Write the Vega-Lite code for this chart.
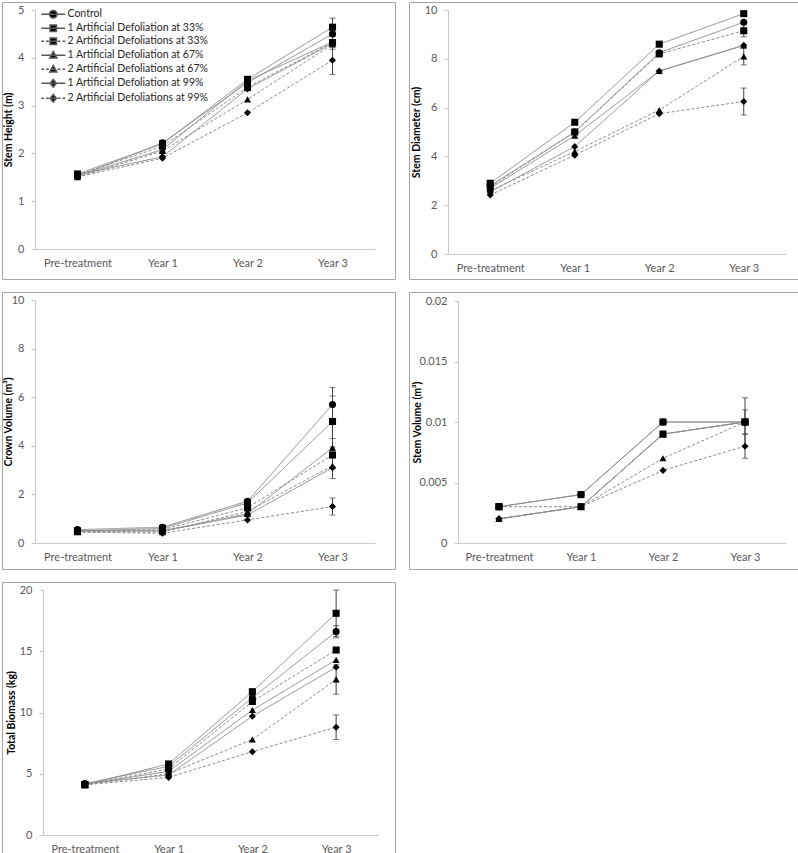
{
"$schema": "https://vega.github.io/schema/vega-lite/v6.json",
"background": "white",
"padding": {"left": 1, "top": 1, "right": 0, "bottom": 0},
"config": {
  "view": {"stroke": "#a6a6a6", "strokeWidth": 1},
  "font": "Lato",
  "axis": {"grid": false, "domainColor": "#c8c8c8", "labelColor": "#595959", "labelFontSize": 11, "labelFont": "Lato", "titleFont": "Lato", "titleFontSize": 10.5, "titleFontWeight": "bold", "titleColor": "#000000", "tickColor": "#c8c8c8"},
  "axisX": {"ticks": false, "labelPadding": 8, "labelAngle": 0},
  "axisY": {"tickSize": 4, "labelPadding": 7, "titlePadding": 4},
  "legend": {"labelFont": "Lato"}
},
"datasets": {
  "height": [
    {"series": "Control", "period": "Pre-treatment", "value": 1.52},
    {"series": "Control", "period": "Year 1", "value": 2.22},
    {"series": "Control", "period": "Year 2", "value": 3.48},
    {"series": "Control", "period": "Year 3", "value": 4.5},
    {"series": "1 Artificial Defoliation at 33%", "period": "Pre-treatment", "value": 1.57},
    {"series": "1 Artificial Defoliation at 33%", "period": "Year 1", "value": 2.2},
    {"series": "1 Artificial Defoliation at 33%", "period": "Year 2", "value": 3.55},
    {"series": "1 Artificial Defoliation at 33%", "period": "Year 3", "value": 4.64, "lo": 4.45, "hi": 4.83},
    {"series": "2 Artificial Defoliations at 33%", "period": "Pre-treatment", "value": 1.55},
    {"series": "2 Artificial Defoliations at 33%", "period": "Year 1", "value": 2.15},
    {"series": "2 Artificial Defoliations at 33%", "period": "Year 2", "value": 3.38},
    {"series": "2 Artificial Defoliations at 33%", "period": "Year 3", "value": 4.32},
    {"series": "1 Artificial Defoliation at 67%", "period": "Pre-treatment", "value": 1.53},
    {"series": "1 Artificial Defoliation at 67%", "period": "Year 1", "value": 2.08},
    {"series": "1 Artificial Defoliation at 67%", "period": "Year 2", "value": 3.52},
    {"series": "1 Artificial Defoliation at 67%", "period": "Year 3", "value": 4.33, "lo": 4.18, "hi": 4.48},
    {"series": "2 Artificial Defoliations at 67%", "period": "Pre-treatment", "value": 1.5},
    {"series": "2 Artificial Defoliations at 67%", "period": "Year 1", "value": 2.05},
    {"series": "2 Artificial Defoliations at 67%", "period": "Year 2", "value": 3.13},
    {"series": "2 Artificial Defoliations at 67%", "period": "Year 3", "value": 4.28},
    {"series": "1 Artificial Defoliation at 99%", "period": "Pre-treatment", "value": 1.55},
    {"series": "1 Artificial Defoliation at 99%", "period": "Year 1", "value": 1.93},
    {"series": "1 Artificial Defoliation at 99%", "period": "Year 2", "value": 3.35},
    {"series": "1 Artificial Defoliation at 99%", "period": "Year 3", "value": 4.3},
    {"series": "2 Artificial Defoliations at 99%", "period": "Pre-treatment", "value": 1.51},
    {"series": "2 Artificial Defoliations at 99%", "period": "Year 1", "value": 1.9},
    {"series": "2 Artificial Defoliations at 99%", "period": "Year 2", "value": 2.85},
    {"series": "2 Artificial Defoliations at 99%", "period": "Year 3", "value": 3.95, "lo": 3.65, "hi": 4.25}
  ],
  "diameter": [
    {"series": "Control", "period": "Pre-treatment", "value": 2.8},
    {"series": "Control", "period": "Year 1", "value": 5.0},
    {"series": "Control", "period": "Year 2", "value": 8.25},
    {"series": "Control", "period": "Year 3", "value": 9.5},
    {"series": "1 Artificial Defoliation at 33%", "period": "Pre-treatment", "value": 2.9},
    {"series": "1 Artificial Defoliation at 33%", "period": "Year 1", "value": 5.4},
    {"series": "1 Artificial Defoliation at 33%", "period": "Year 2", "value": 8.6},
    {"series": "1 Artificial Defoliation at 33%", "period": "Year 3", "value": 9.85},
    {"series": "2 Artificial Defoliations at 33%", "period": "Pre-treatment", "value": 2.75},
    {"series": "2 Artificial Defoliations at 33%", "period": "Year 1", "value": 5.0},
    {"series": "2 Artificial Defoliations at 33%", "period": "Year 2", "value": 8.2},
    {"series": "2 Artificial Defoliations at 33%", "period": "Year 3", "value": 9.15, "lo": 8.9, "hi": 9.4},
    {"series": "1 Artificial Defoliation at 67%", "period": "Pre-treatment", "value": 2.7},
    {"series": "1 Artificial Defoliation at 67%", "period": "Year 1", "value": 4.85},
    {"series": "1 Artificial Defoliation at 67%", "period": "Year 2", "value": 7.5},
    {"series": "1 Artificial Defoliation at 67%", "period": "Year 3", "value": 8.55},
    {"series": "2 Artificial Defoliations at 67%", "period": "Pre-treatment", "value": 2.6},
    {"series": "2 Artificial Defoliations at 67%", "period": "Year 1", "value": 4.2},
    {"series": "2 Artificial Defoliations at 67%", "period": "Year 2", "value": 5.9},
    {"series": "2 Artificial Defoliations at 67%", "period": "Year 3", "value": 8.1, "lo": 7.75, "hi": 8.45},
    {"series": "1 Artificial Defoliation at 99%", "period": "Pre-treatment", "value": 2.55},
    {"series": "1 Artificial Defoliation at 99%", "period": "Year 1", "value": 4.4},
    {"series": "1 Artificial Defoliation at 99%", "period": "Year 2", "value": 7.5},
    {"series": "1 Artificial Defoliation at 99%", "period": "Year 3", "value": 8.55},
    {"series": "2 Artificial Defoliations at 99%", "period": "Pre-treatment", "value": 2.42},
    {"series": "2 Artificial Defoliations at 99%", "period": "Year 1", "value": 4.05},
    {"series": "2 Artificial Defoliations at 99%", "period": "Year 2", "value": 5.75},
    {"series": "2 Artificial Defoliations at 99%", "period": "Year 3", "value": 6.25, "lo": 5.7, "hi": 6.8}
  ],
  "crown": [
    {"series": "Control", "period": "Pre-treatment", "value": 0.55},
    {"series": "Control", "period": "Year 1", "value": 0.65},
    {"series": "Control", "period": "Year 2", "value": 1.72},
    {"series": "Control", "period": "Year 3", "value": 5.7, "lo": 5.0, "hi": 6.4},
    {"series": "1 Artificial Defoliation at 33%", "period": "Pre-treatment", "value": 0.5},
    {"series": "1 Artificial Defoliation at 33%", "period": "Year 1", "value": 0.6},
    {"series": "1 Artificial Defoliation at 33%", "period": "Year 2", "value": 1.65},
    {"series": "1 Artificial Defoliation at 33%", "period": "Year 3", "value": 5.0, "lo": 3.95, "hi": 6.05},
    {"series": "2 Artificial Defoliations at 33%", "period": "Pre-treatment", "value": 0.48},
    {"series": "2 Artificial Defoliations at 33%", "period": "Year 1", "value": 0.55},
    {"series": "2 Artificial Defoliations at 33%", "period": "Year 2", "value": 1.45},
    {"series": "2 Artificial Defoliations at 33%", "period": "Year 3", "value": 3.62},
    {"series": "1 Artificial Defoliation at 67%", "period": "Pre-treatment", "value": 0.5},
    {"series": "1 Artificial Defoliation at 67%", "period": "Year 1", "value": 0.5},
    {"series": "1 Artificial Defoliation at 67%", "period": "Year 2", "value": 1.2},
    {"series": "1 Artificial Defoliation at 67%", "period": "Year 3", "value": 3.92, "lo": 3.55, "hi": 4.3},
    {"series": "2 Artificial Defoliations at 67%", "period": "Pre-treatment", "value": 0.45},
    {"series": "2 Artificial Defoliations at 67%", "period": "Year 1", "value": 0.45},
    {"series": "2 Artificial Defoliations at 67%", "period": "Year 2", "value": 1.3},
    {"series": "2 Artificial Defoliations at 67%", "period": "Year 3", "value": 3.18, "lo": 2.65, "hi": 3.75},
    {"series": "1 Artificial Defoliation at 99%", "period": "Pre-treatment", "value": 0.5},
    {"series": "1 Artificial Defoliation at 99%", "period": "Year 1", "value": 0.5},
    {"series": "1 Artificial Defoliation at 99%", "period": "Year 2", "value": 1.15},
    {"series": "1 Artificial Defoliation at 99%", "period": "Year 3", "value": 3.1},
    {"series": "2 Artificial Defoliations at 99%", "period": "Pre-treatment", "value": 0.45},
    {"series": "2 Artificial Defoliations at 99%", "period": "Year 1", "value": 0.4},
    {"series": "2 Artificial Defoliations at 99%", "period": "Year 2", "value": 0.95},
    {"series": "2 Artificial Defoliations at 99%", "period": "Year 3", "value": 1.5, "lo": 1.15, "hi": 1.85}
  ],
  "stemvol": [
    {"series": "Control", "period": "Pre-treatment", "value": 0.003},
    {"series": "Control", "period": "Year 1", "value": 0.004},
    {"series": "Control", "period": "Year 2", "value": 0.01},
    {"series": "Control", "period": "Year 3", "value": 0.01, "lo": 0.008, "hi": 0.012},
    {"series": "1 Artificial Defoliation at 33%", "period": "Pre-treatment", "value": 0.003},
    {"series": "1 Artificial Defoliation at 33%", "period": "Year 1", "value": 0.004},
    {"series": "1 Artificial Defoliation at 33%", "period": "Year 2", "value": 0.01},
    {"series": "1 Artificial Defoliation at 33%", "period": "Year 3", "value": 0.01, "lo": 0.009, "hi": 0.011},
    {"series": "2 Artificial Defoliations at 33%", "period": "Pre-treatment", "value": 0.003},
    {"series": "2 Artificial Defoliations at 33%", "period": "Year 1", "value": 0.003},
    {"series": "2 Artificial Defoliations at 33%", "period": "Year 2", "value": 0.009},
    {"series": "2 Artificial Defoliations at 33%", "period": "Year 3", "value": 0.01},
    {"series": "1 Artificial Defoliation at 67%", "period": "Pre-treatment", "value": 0.002},
    {"series": "1 Artificial Defoliation at 67%", "period": "Year 1", "value": 0.003},
    {"series": "1 Artificial Defoliation at 67%", "period": "Year 2", "value": 0.009},
    {"series": "1 Artificial Defoliation at 67%", "period": "Year 3", "value": 0.01},
    {"series": "2 Artificial Defoliations at 67%", "period": "Pre-treatment", "value": 0.002},
    {"series": "2 Artificial Defoliations at 67%", "period": "Year 1", "value": 0.003},
    {"series": "2 Artificial Defoliations at 67%", "period": "Year 2", "value": 0.007},
    {"series": "2 Artificial Defoliations at 67%", "period": "Year 3", "value": 0.01},
    {"series": "1 Artificial Defoliation at 99%", "period": "Pre-treatment", "value": 0.002},
    {"series": "1 Artificial Defoliation at 99%", "period": "Year 1", "value": 0.003},
    {"series": "1 Artificial Defoliation at 99%", "period": "Year 2", "value": 0.009},
    {"series": "1 Artificial Defoliation at 99%", "period": "Year 3", "value": 0.01},
    {"series": "2 Artificial Defoliations at 99%", "period": "Pre-treatment", "value": 0.002},
    {"series": "2 Artificial Defoliations at 99%", "period": "Year 1", "value": 0.003},
    {"series": "2 Artificial Defoliations at 99%", "period": "Year 2", "value": 0.006},
    {"series": "2 Artificial Defoliations at 99%", "period": "Year 3", "value": 0.008, "lo": 0.007, "hi": 0.009}
  ],
  "biomass": [
    {"series": "Control", "period": "Pre-treatment", "value": 4.2},
    {"series": "Control", "period": "Year 1", "value": 5.6},
    {"series": "Control", "period": "Year 2", "value": 11.2},
    {"series": "Control", "period": "Year 3", "value": 16.6, "lo": 16.1, "hi": 17.1},
    {"series": "1 Artificial Defoliation at 33%", "period": "Pre-treatment", "value": 4.1},
    {"series": "1 Artificial Defoliation at 33%", "period": "Year 1", "value": 5.8},
    {"series": "1 Artificial Defoliation at 33%", "period": "Year 2", "value": 11.7},
    {"series": "1 Artificial Defoliation at 33%", "period": "Year 3", "value": 18.1, "lo": 16.2, "hi": 20.0},
    {"series": "2 Artificial Defoliations at 33%", "period": "Pre-treatment", "value": 4.1},
    {"series": "2 Artificial Defoliations at 33%", "period": "Year 1", "value": 5.4},
    {"series": "2 Artificial Defoliations at 33%", "period": "Year 2", "value": 10.9},
    {"series": "2 Artificial Defoliations at 33%", "period": "Year 3", "value": 15.1},
    {"series": "1 Artificial Defoliation at 67%", "period": "Pre-treatment", "value": 4.15},
    {"series": "1 Artificial Defoliation at 67%", "period": "Year 1", "value": 5.2},
    {"series": "1 Artificial Defoliation at 67%", "period": "Year 2", "value": 10.2},
    {"series": "1 Artificial Defoliation at 67%", "period": "Year 3", "value": 14.3},
    {"series": "2 Artificial Defoliations at 67%", "period": "Pre-treatment", "value": 4.1},
    {"series": "2 Artificial Defoliations at 67%", "period": "Year 1", "value": 5.0},
    {"series": "2 Artificial Defoliations at 67%", "period": "Year 2", "value": 7.8},
    {"series": "2 Artificial Defoliations at 67%", "period": "Year 3", "value": 12.7, "lo": 11.5, "hi": 13.9},
    {"series": "1 Artificial Defoliation at 99%", "period": "Pre-treatment", "value": 4.2},
    {"series": "1 Artificial Defoliation at 99%", "period": "Year 1", "value": 4.9},
    {"series": "1 Artificial Defoliation at 99%", "period": "Year 2", "value": 9.7},
    {"series": "1 Artificial Defoliation at 99%", "period": "Year 3", "value": 13.7},
    {"series": "2 Artificial Defoliations at 99%", "period": "Pre-treatment", "value": 4.1},
    {"series": "2 Artificial Defoliations at 99%", "period": "Year 1", "value": 4.7},
    {"series": "2 Artificial Defoliations at 99%", "period": "Year 2", "value": 6.8},
    {"series": "2 Artificial Defoliations at 99%", "period": "Year 3", "value": 8.8, "lo": 7.8, "hi": 9.8}
  ]
},
"spacing": 11,
"vconcat": [
  {"hconcat": [
    {
      "width": 393, "height": 277,
      "data": {"name": "height"},
      "encoding": {
        "x": {"field": "period", "type": "ordinal", "title": null, "scale": {"type": "point", "domain": ["Pre-treatment", "Year 1", "Year 2", "Year 3"], "range": [33, 373], "padding": 0.5}, "axis": {"offset": -30}},
        "y": {"field": "value", "type": "quantitative", "title": "Stem Height (m)", "scale": {"domain": [0, 5], "range": [247, 8], "nice": false, "zero": false}, "axis": {"offset": -33, "values": [0, 1, 2, 3, 4, 5], "titleX": -22}}
      },
      "layer": [
        {"mark": {"type": "line", "color": "#8c8c8c", "strokeWidth": 1},
         "encoding": {"strokeDash": {"field": "series", "type": "nominal", "legend": null, "scale": {"domain": ["Control", "1 Artificial Defoliation at 33%", "2 Artificial Defoliations at 33%", "1 Artificial Defoliation at 67%", "2 Artificial Defoliations at 67%", "1 Artificial Defoliation at 99%", "2 Artificial Defoliations at 99%"], "range": [[1, 0], [1, 0], [3, 2], [1, 0], [3, 2], [1, 0], [3, 2]]}}}},
        {"transform": [{"filter": "isValid(datum.lo)"}],
         "mark": {"type": "errorbar", "ticks": {"size": 6}, "color": "#404040", "thickness": 1},
         "encoding": {"y": {"field": "lo", "type": "quantitative", "title": "Stem Height (m)", "scale": {"domain": [0, 5], "range": [247, 8], "nice": false, "zero": false}}, "y2": {"field": "hi"}}},
        {"mark": {"type": "point", "filled": true, "color": "black", "size": 50, "opacity": 1},
         "encoding": {"order": {"field": "series", "sort": "ascending"}, "shape": {"field": "series", "type": "nominal", "legend": null, "scale": {"domain": ["Control", "1 Artificial Defoliation at 33%", "2 Artificial Defoliations at 33%", "1 Artificial Defoliation at 67%", "2 Artificial Defoliations at 67%", "1 Artificial Defoliation at 99%", "2 Artificial Defoliations at 99%"], "range": ["circle", "square", "square", "triangle-up", "triangle-up", "diamond", "diamond"]}}}},
        {"transform": [{"filter": "false"}],
         "mark": {"type": "point", "filled": true, "color": "black", "stroke": "#595959", "strokeWidth": 1, "opacity": 1},
         "encoding": {"shape": {"field": "series", "type": "nominal",
           "scale": {"domain": ["Control", "1 Artificial Defoliation at 33%", "2 Artificial Defoliations at 33%", "1 Artificial Defoliation at 67%", "2 Artificial Defoliations at 67%", "1 Artificial Defoliation at 99%", "2 Artificial Defoliations at 99%"],
             "range": [
               "M-3,0H3M0.95,0A0.95,0.95,0,1,1,-0.95,0A0.95,0.95,0,1,1,0.95,0Z",
               "M-3,0H3M-0.8,-0.8H0.8V0.8H-0.8Z",
               "M-3,0H-2.3M-1.8,0H-1.1M-0.6,0H0.6M1.1,0H1.8M2.3,0H3M-0.8,-0.8H0.8V0.8H-0.8Z",
               "M-3,0H3M0,-0.95L0.9,0.7H-0.9Z",
               "M-3,0H-2.3M-1.8,0H-1.1M-0.6,0H0.6M1.1,0H1.8M2.3,0H3M0,-0.95L0.9,0.7H-0.9Z",
               "M-3,0H3M0,-0.95L0.8,0L0,0.95L-0.8,0Z",
               "M-3,0H-2.3M-1.8,0H-1.1M-0.6,0H0.6M1.1,0H1.8M2.3,0H3M0,-0.95L0.8,0L0,0.95L-0.8,0Z"
             ]},
           "legend": {"title": null, "orient": "none", "legendX": 46, "legendY": 7, "symbolSize": 64, "labelOffset": 9, "rowPadding": 0, "labelFontSize": 10.5, "labelColor": "#262626", "labelLimit": 300,
             "encode": {"symbols": {"stroke": {"value": "#404040"}, "strokeWidth": {"value": 1}, "fill": {"value": "black"}, "opacity": {"value": 1}}}}}}}
      ],
      "resolve": {"scale": {"shape": "independent"}}
    },
    {
      "width": 392, "height": 277,
      "data": {"name": "diameter"},
      "encoding": {
        "x": {"field": "period", "type": "ordinal", "title": null, "scale": {"type": "point", "domain": ["Pre-treatment", "Year 1", "Year 2", "Year 3"], "range": [39, 377], "padding": 0.5}, "axis": {"offset": -25}},
        "y": {"field": "value", "type": "quantitative", "title": "Stem Diameter (cm)", "scale": {"domain": [0, 10], "range": [252, 8], "nice": false, "zero": false}, "axis": {"offset": -39, "values": [0, 2, 4, 6, 8, 10], "titleX": -27}}
      },
      "layer": [
        {"mark": {"type": "line", "color": "#8c8c8c", "strokeWidth": 1},
         "encoding": {"strokeDash": {"field": "series", "type": "nominal", "legend": null, "scale": {"domain": ["Control", "1 Artificial Defoliation at 33%", "2 Artificial Defoliations at 33%", "1 Artificial Defoliation at 67%", "2 Artificial Defoliations at 67%", "1 Artificial Defoliation at 99%", "2 Artificial Defoliations at 99%"], "range": [[1, 0], [1, 0], [3, 2], [1, 0], [3, 2], [1, 0], [3, 2]]}}}},
        {"transform": [{"filter": "isValid(datum.lo)"}],
         "mark": {"type": "errorbar", "ticks": {"size": 6}, "color": "#404040", "thickness": 1},
         "encoding": {"y": {"field": "lo", "type": "quantitative", "title": "Stem Diameter (cm)", "scale": {"domain": [0, 10], "range": [252, 8], "nice": false, "zero": false}}, "y2": {"field": "hi"}}},
        {"mark": {"type": "point", "filled": true, "color": "black", "size": 50, "opacity": 1},
         "encoding": {"order": {"field": "series", "sort": "ascending"}, "shape": {"field": "series", "type": "nominal", "legend": null, "scale": {"domain": ["Control", "1 Artificial Defoliation at 33%", "2 Artificial Defoliations at 33%", "1 Artificial Defoliation at 67%", "2 Artificial Defoliations at 67%", "1 Artificial Defoliation at 99%", "2 Artificial Defoliations at 99%"], "range": ["circle", "square", "square", "triangle-up", "triangle-up", "diamond", "diamond"]}}}}
      ]
    }
  ], "spacing": 12},
  {"hconcat": [
    {
      "width": 393, "height": 277,
      "data": {"name": "crown"},
      "encoding": {
        "x": {"field": "period", "type": "ordinal", "title": null, "scale": {"type": "point", "domain": ["Pre-treatment", "Year 1", "Year 2", "Year 3"], "range": [33, 373], "padding": 0.5}, "axis": {"offset": -26}},
        "y": {"field": "value", "type": "quantitative", "title": "Crown Volume (m³)", "scale": {"domain": [0, 10], "range": [251, 8], "nice": false, "zero": false}, "axis": {"offset": -33, "values": [0, 2, 4, 6, 8, 10], "titleX": -22}}
      },
      "layer": [
        {"mark": {"type": "line", "color": "#8c8c8c", "strokeWidth": 1},
         "encoding": {"strokeDash": {"field": "series", "type": "nominal", "legend": null, "scale": {"domain": ["Control", "1 Artificial Defoliation at 33%", "2 Artificial Defoliations at 33%", "1 Artificial Defoliation at 67%", "2 Artificial Defoliations at 67%", "1 Artificial Defoliation at 99%", "2 Artificial Defoliations at 99%"], "range": [[1, 0], [1, 0], [3, 2], [1, 0], [3, 2], [1, 0], [3, 2]]}}}},
        {"transform": [{"filter": "isValid(datum.lo)"}],
         "mark": {"type": "errorbar", "ticks": {"size": 6}, "color": "#404040", "thickness": 1},
         "encoding": {"y": {"field": "lo", "type": "quantitative", "title": "Crown Volume (m³)", "scale": {"domain": [0, 10], "range": [251, 8], "nice": false, "zero": false}}, "y2": {"field": "hi"}}},
        {"mark": {"type": "point", "filled": true, "color": "black", "size": 50, "opacity": 1},
         "encoding": {"order": {"field": "series", "sort": "ascending"}, "shape": {"field": "series", "type": "nominal", "legend": null, "scale": {"domain": ["Control", "1 Artificial Defoliation at 33%", "2 Artificial Defoliations at 33%", "1 Artificial Defoliation at 67%", "2 Artificial Defoliations at 67%", "1 Artificial Defoliation at 99%", "2 Artificial Defoliations at 99%"], "range": ["circle", "square", "square", "triangle-up", "triangle-up", "diamond", "diamond"]}}}}
      ]
    },
    {
      "width": 392, "height": 277,
      "data": {"name": "stemvol"},
      "encoding": {
        "x": {"field": "period", "type": "ordinal", "title": null, "scale": {"type": "point", "domain": ["Pre-treatment", "Year 1", "Year 2", "Year 3"], "range": [49, 377], "padding": 0.5}, "axis": {"offset": -26}},
        "y": {"field": "value", "type": "quantitative", "title": "Stem Volume (m³)", "scale": {"domain": [0, 0.02], "range": [251, 9], "nice": false, "zero": false}, "axis": {"offset": -49, "values": [0, 0.005, 0.01, 0.015, 0.02], "format": "~g", "titleX": -36}}
      },
      "layer": [
        {"mark": {"type": "line", "color": "#8c8c8c", "strokeWidth": 1},
         "encoding": {"strokeDash": {"field": "series", "type": "nominal", "legend": null, "scale": {"domain": ["Control", "1 Artificial Defoliation at 33%", "2 Artificial Defoliations at 33%", "1 Artificial Defoliation at 67%", "2 Artificial Defoliations at 67%", "1 Artificial Defoliation at 99%", "2 Artificial Defoliations at 99%"], "range": [[1, 0], [1, 0], [3, 2], [1, 0], [3, 2], [1, 0], [3, 2]]}}}},
        {"transform": [{"filter": "isValid(datum.lo)"}],
         "mark": {"type": "errorbar", "ticks": {"size": 6}, "color": "#404040", "thickness": 1},
         "encoding": {"y": {"field": "lo", "type": "quantitative", "title": "Stem Volume (m³)", "scale": {"domain": [0, 0.02], "range": [251, 9], "nice": false, "zero": false}}, "y2": {"field": "hi"}}},
        {"mark": {"type": "point", "filled": true, "color": "black", "size": 50, "opacity": 1},
         "encoding": {"order": {"field": "series", "sort": "ascending"}, "shape": {"field": "series", "type": "nominal", "legend": null, "scale": {"domain": ["Control", "1 Artificial Defoliation at 33%", "2 Artificial Defoliations at 33%", "1 Artificial Defoliation at 67%", "2 Artificial Defoliations at 67%", "1 Artificial Defoliation at 99%", "2 Artificial Defoliations at 99%"], "range": ["circle", "square", "square", "triangle-up", "triangle-up", "diamond", "diamond"]}}}}
      ]
    }
  ], "spacing": 12},
  {
    "width": 393, "height": 275,
    "data": {"name": "biomass"},
    "encoding": {
      "x": {"field": "period", "type": "ordinal", "title": null, "scale": {"type": "point", "domain": ["Pre-treatment", "Year 1", "Year 2", "Year 3"], "range": [41, 376], "padding": 0.5}, "axis": {"offset": -22}},
      "y": {"field": "value", "type": "quantitative", "title": "Total Biomass (kg)", "scale": {"domain": [0, 20], "range": [253, 8], "nice": false, "zero": false}, "axis": {"offset": -41, "values": [0, 5, 10, 15, 20], "titleX": -27}}
    },
    "layer": [
      {"mark": {"type": "line", "color": "#8c8c8c", "strokeWidth": 1},
       "encoding": {"strokeDash": {"field": "series", "type": "nominal", "legend": null, "scale": {"domain": ["Control", "1 Artificial Defoliation at 33%", "2 Artificial Defoliations at 33%", "1 Artificial Defoliation at 67%", "2 Artificial Defoliations at 67%", "1 Artificial Defoliation at 99%", "2 Artificial Defoliations at 99%"], "range": [[1, 0], [1, 0], [3, 2], [1, 0], [3, 2], [1, 0], [3, 2]]}}}},
      {"transform": [{"filter": "isValid(datum.lo)"}],
       "mark": {"type": "errorbar", "ticks": {"size": 6}, "color": "#404040", "thickness": 1},
       "encoding": {"y": {"field": "lo", "type": "quantitative", "title": "Total Biomass (kg)", "scale": {"domain": [0, 20], "range": [253, 8], "nice": false, "zero": false}}, "y2": {"field": "hi"}}},
      {"mark": {"type": "point", "filled": true, "color": "black", "size": 50, "opacity": 1},
       "encoding": {"order": {"field": "series", "sort": "ascending"}, "shape": {"field": "series", "type": "nominal", "legend": null, "scale": {"domain": ["Control", "1 Artificial Defoliation at 33%", "2 Artificial Defoliations at 33%", "1 Artificial Defoliation at 67%", "2 Artificial Defoliations at 67%", "1 Artificial Defoliation at 99%", "2 Artificial Defoliations at 99%"], "range": ["circle", "square", "square", "triangle-up", "triangle-up", "diamond", "diamond"]}}}}
    ]
  }
]
}
